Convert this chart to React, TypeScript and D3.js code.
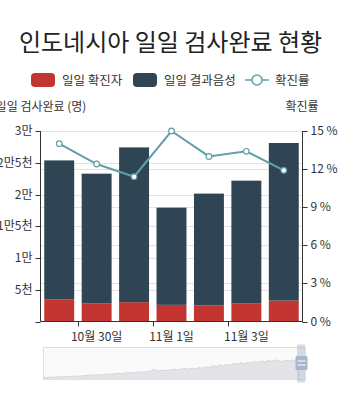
import React from "react";
import * as d3 from "d3";

const categories = ["10월 29일", "10월 30일", "10월 31일", "11월 1일", "11월 2일", "11월 3일", "11월 4일"];
const positives = [3460, 2830, 3040, 2620, 2520, 2830, 3300];
const negatives = [21910, 20450, 24380, 15310, 17620, 19350, 24810];
const rates = [14.0, 12.4, 11.4, 15.0, 13.0, 13.4, 11.9];
const leftTicks = [0, 5000, 10000, 15000, 20000, 25000, 30000];
const leftTickLabels = ["", "5천", "1만", "1만5천", "2만", "2만5천", "3만"];
const rightTicks = [0, 3, 6, 9, 12, 15];
const xLabelIdx = [1, 3, 5];
const overview = [
  2, 2, 2.2, 2.3, 2.5, 2.6, 2.8, 3, 3.1, 3.3, 3.5, 3.6, 3.9, 4.1, 4.3, 4.6, 4.5, 5, 5.2, 5.6, 5.4, 6, 6.3, 5.9,
  6.8, 7, 6.6, 7.4, 7.2, 8, 7.7, 8.4, 10.5, 8.6, 8.9, 9.4, 8.8, 9.8, 10.2, 9.5, 10.6, 11.1, 10.3, 11.4, 10.8,
  11.9, 11.2, 12.6, 12, 13.8, 12.9, 14.5, 13.6, 15.2, 14.4, 16.1, 15.3, 16.8, 15.9, 17.2, 16.4, 17.8, 16.9, 18.5,
  17.6, 19, 18.2, 19.6, 18.8, 17.9, 19.2, 18.4, 19.5, 18.6, 19.1,
];

const FONT = "'Noto Sans CJK KR', 'Noto Sans', sans-serif";
const red = "#c23531";
const navy = "#2f4554";
const teal = "#61a0a8";
const axisColor = "#333";

export default function App() {
  const W = 341, H = 400;
  const left = 40.5, right = 302.5, top = 131, bottom = 321.5;
  const x = d3.scaleBand<string>().domain(categories).range([left, right]).paddingInner(0.2).paddingOuter(0.1);
  const xb = d3.scaleBand<string>().domain(categories).range([left, right]).padding(0);
  const yL = d3.scaleLinear().domain([0, 30000]).range([bottom, top]);
  const yR = d3.scaleLinear().domain([0, 15]).range([bottom, top]);

  const line = d3.line<number>().x((_, i) => x(categories[i])! + x.bandwidth() / 2).y((d) => yR(d));

  // overview slider
  const sx0 = 43.5, sx1 = 305.5, sy0 = 347.5, sy1 = 379.5;
  const ox = d3.scaleLinear().domain([0, overview.length - 1]).range([sx0, sx1 - 6]);
  const oy = d3.scaleLinear().domain([0, 30]).range([sy1, sy0 + 2]);
  const area = d3.area<number>().x((_, i) => ox(i)).y0(sy1).y1((d) => oy(d));
  const oline = d3.line<number>().x((_, i) => ox(i)).y((d) => oy(d));

  return (
    <svg width={W} height={H} style={{ position: "fixed", left: 0, top: 0 }} fontFamily={FONT}>
      <rect width={W} height={H} fill="#fff" />
      <text x={170.5} y={51} textAnchor="middle" fontSize={24} fill="#222">인도네시아 일일 검사완료 현황</text>

      {/* legend */}
      <g fontSize={12.5} fill="#333">
        <rect x={31} y={73} width={24} height={14} rx={4} fill={red} />
        <text x={62} y={84.5}>일일 확진자</text>
        <rect x={133} y={73} width={24} height={14} rx={4} fill={navy} />
        <text x={164} y={84.5}>일일 결과음성</text>
        <line x1={245} x2={269} y1={80} y2={80} stroke={teal} strokeWidth={1.5} />
        <circle cx={257} cy={80} r={5} fill="#fff" stroke={teal} strokeWidth={1.5} />
        <text x={275} y={84.5}>확진률</text>
      </g>

      {/* axis names */}
      <text x={41} y={111} textAnchor="middle" fontSize={12} fill="#333">일일 검사완료 (명)</text>
      <text x={302} y={111} textAnchor="middle" fontSize={12} fill="#333">확진률</text>

      {/* grid */}
      <g stroke="#e2e2e2" strokeWidth={1}>
        {leftTicks.slice(1).map((t) => (
          <line key={"gl" + t} x1={left} x2={right} y1={Math.round(yL(t)) + 0.5} y2={Math.round(yL(t)) + 0.5} />
        ))}
        {rightTicks.slice(1).map((t) => (
          <line key={"gr" + t} x1={left} x2={right} y1={Math.round(yR(t)) + 0.5} y2={Math.round(yR(t)) + 0.5} />
        ))}
      </g>

      {/* bars */}
      {categories.map((c, i) => (
        <g key={c}>
          <rect x={x(c)} width={x.bandwidth()} y={yL(positives[i])} height={yL(0) - yL(positives[i])} fill={red} />
          <rect
            x={x(c)}
            width={x.bandwidth()}
            y={yL(positives[i] + negatives[i])}
            height={yL(positives[i]) - yL(positives[i] + negatives[i])}
            fill={navy}
          />
        </g>
      ))}

      {/* rate line */}
      <path d={line(rates)!} fill="none" stroke={teal} strokeWidth={2} />
      {rates.map((r, i) => (
        <circle key={i} cx={x(categories[i])! + x.bandwidth() / 2} cy={yR(r)} r={2.8} fill="#fff" stroke={teal} strokeWidth={1.2} />
      ))}

      {/* axes */}
      <g stroke={axisColor} strokeWidth={1}>
        <line x1={left} x2={left} y1={top} y2={bottom} />
        {leftTicks.map((t) => (
          <line key={t} x1={left - 5} x2={left} y1={Math.round(yL(t)) + 0.5} y2={Math.round(yL(t)) + 0.5} />
        ))}
        <line x1={right} x2={right} y1={top} y2={bottom} />
        {rightTicks.map((t) => (
          <line key={t} x1={right} x2={right + 5} y1={Math.round(yR(t)) + 0.5} y2={Math.round(yR(t)) + 0.5} />
        ))}
        <line x1={left} x2={right} y1={bottom} y2={bottom} />
        {xLabelIdx.map((i) => (
          <line key={i} x1={Math.round(xb(categories[i])!) + 0.5} x2={Math.round(xb(categories[i])!) + 0.5} y1={bottom} y2={bottom + 5} />
        ))}
      </g>
      <g fontSize={12} fill="#333">
        {leftTicks.map((t, i) => (
          <text key={t} x={left - 8} y={yL(t) + 4} textAnchor="end">{leftTickLabels[i]}</text>
        ))}
        {rightTicks.map((t) => (
          <text key={t} x={right + 8} y={yR(t) + 4}>{t} %</text>
        ))}
        {xLabelIdx.map((i) => (
          <text key={i} x={x(categories[i])! + x.bandwidth() / 2} y={341} textAnchor="middle">{categories[i]}</text>
        ))}
      </g>

      {/* data zoom slider */}
      <rect x={sx0} y={sy0} width={sx1 - sx0} height={sy1 - sy0} fill="#fafafa" stroke="#ddd" />
      <path d={area(overview)!} fill="#e2e4e8" />
      <path d={oline(overview)!} fill="none" stroke="#cfd1d5" strokeWidth={0.8} />
      <rect x={297} y={sy0 - 3} width={8} height={sy1 - sy0 + 6} fill="#a7b7cc" opacity={0.5} />
      <rect x={295.5} y={356} width={12} height={14} rx={1.5} fill="#a7b7cc" />
      <line x1={297.5} x2={305.5} y1={361} y2={361} stroke="#fff" strokeWidth={1} />
      <line x1={297.5} x2={305.5} y1={365} y2={365} stroke="#fff" strokeWidth={1} />
    </svg>
  );
}
